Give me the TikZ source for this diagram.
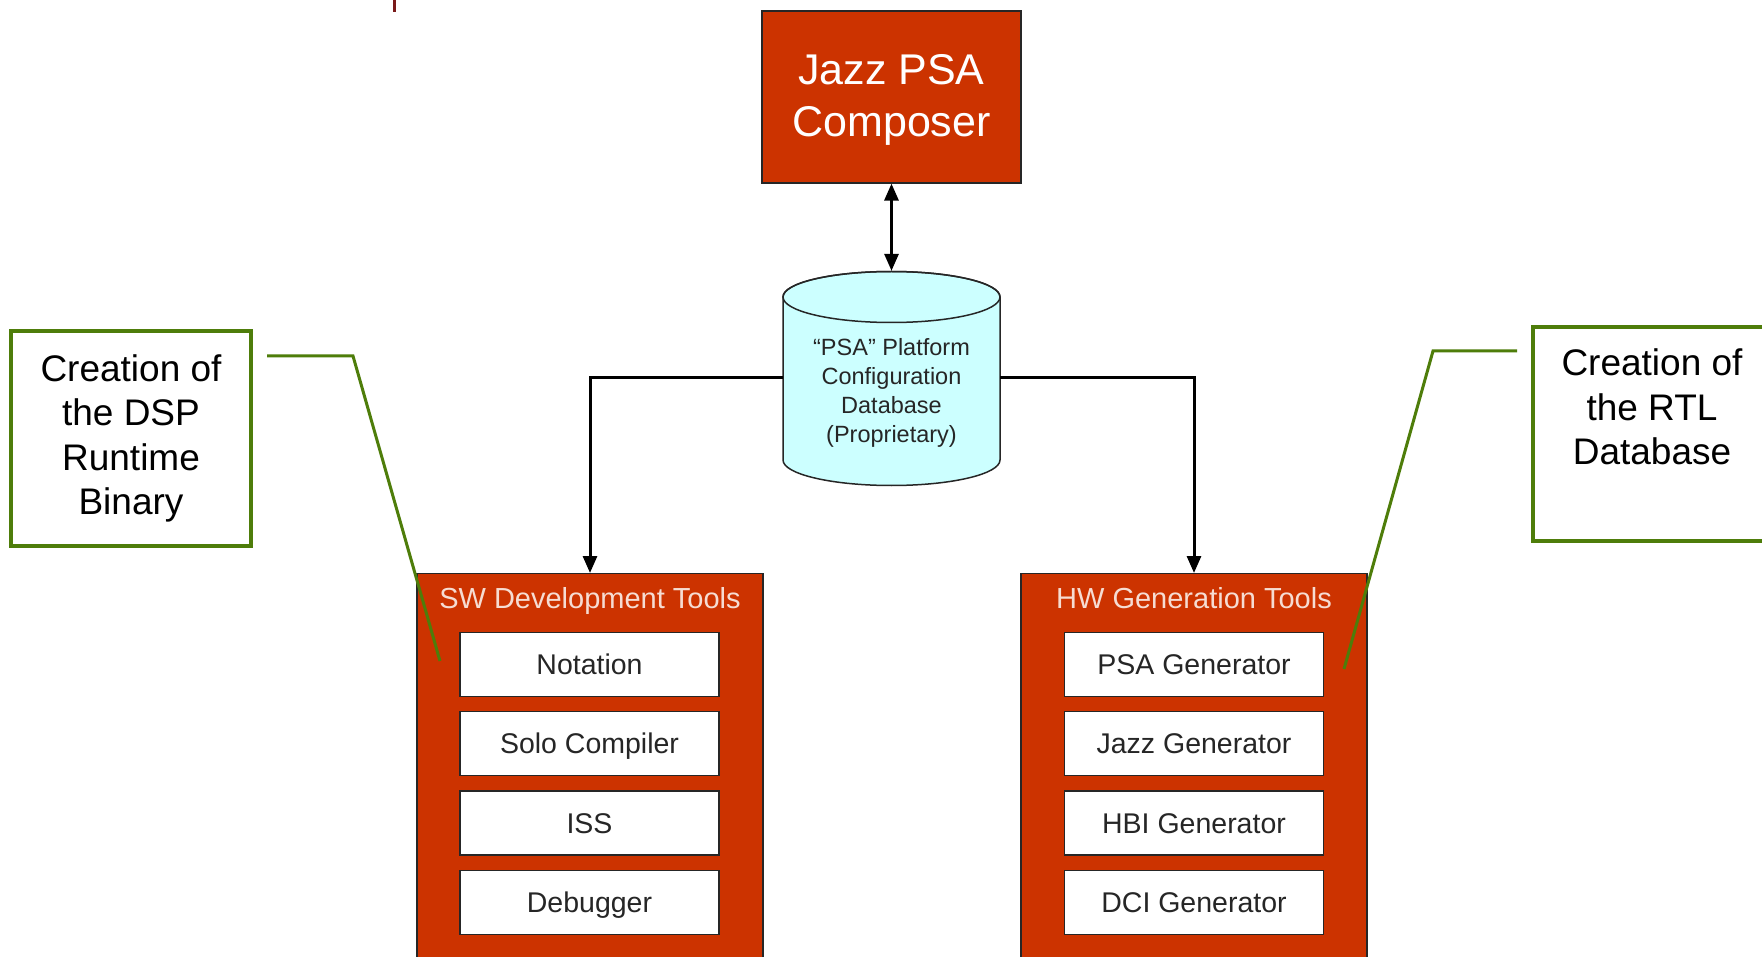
\documentclass[tikz,border=0pt]{standalone}
\usepackage{fontspec}
\setmainfont{Liberation Sans}
\usetikzlibrary{arrows.meta}
\definecolor{psared}{HTML}{CC3300}
\definecolor{callgreen}{HTML}{4E7D0A}
\definecolor{dbcyan}{HTML}{CCFFFF}
\definecolor{titlepink}{HTML}{F6DCD2}
\definecolor{innertext}{HTML}{262626}
\definecolor{tickred}{HTML}{7A1A1A}
\begin{document}
\begin{tikzpicture}[x=1pt,y=1pt,
  redbox/.style={draw=black!85, line width=1.2pt, fill=psared, inner sep=0pt},
  toolbox/.style={draw=black!85, line width=1.5pt, fill=white, minimum width=259pt, minimum height=64pt, inner sep=0pt, font=\fontsize{28.5}{34}\selectfont, text=innertext, text height=20.4pt, text depth=0pt},
  grouptitle/.style={font=\fontsize{29}{34}\selectfont, text=titlepink, inner sep=0pt, text height=20.8pt, text depth=0pt},
  callbox/.style={draw=callgreen, line width=4pt, fill=white, minimum width=240pt, minimum height=214pt, align=center, font=\fontsize{37}{44.5}\selectfont, inner sep=0pt},
  callline/.style={draw=callgreen, line width=3pt},
  conn/.style={draw=black, line width=3pt},
  tipend/.style={-{Triangle[length=17pt,width=14pt]}},
  tipboth/.style={{Triangle[length=17pt,width=14pt]}-{Triangle[length=17pt,width=14pt]}},
  dbline/.style={draw=black!85, line width=1.5pt}
]
\useasboundingbox (0,0) rectangle (1762,-957);
\clip (0,0) rectangle (1762,-957);
\fill[white] (0,0) rectangle (1762,-957);

% small cut-off mark at the top
\draw[tickred, line width=3pt] (394,0) -- (394,-12);

% composer
\node[redbox, minimum width=259pt, minimum height=172pt, text=white, align=center,
      font=\fontsize{43}{52}\selectfont] (comp) at (891.5,-97) {\rule{0pt}{36pt}Jazz PSA\\Composer};

% database cylinder
\path[dbline, fill=dbcyan] (783,-297) -- (783,-460) arc (180:360:108.5 and 25.5)
   -- (1000,-297) arc (0:180:108.5 and 25.5) -- cycle;
\draw[dbline] (891.5,-297) ellipse (108.5 and 25.5);
\node[minimum width=217pt, minimum height=214pt, inner sep=0pt] (db) at (891.5,-378) {};
\node[align=center, inner sep=0pt, font=\fontsize{23.5}{29}\selectfont, text=innertext] (dbtext) at (891.5,-392.5)
  {“PSA” Platform\\Configuration\\Database\\(Proprietary)};

% SW group
\node[redbox, minimum width=346pt, minimum height=420pt, anchor=north] (sw) at (590,-573) {};
\node[grouptitle] (swt) at (590,-598) {SW Development Tools};
\node[toolbox] (notation) at (589.5,-664.5) {Notation};
\node[toolbox] (solo) at (589.5,-743.5) {Solo Compiler};
\node[toolbox] (iss) at (589.5,-823) {ISS};
\node[toolbox] (debug) at (589.5,-902.5) {Debugger};

% HW group
\node[redbox, minimum width=346pt, minimum height=420pt, anchor=north] (hw) at (1194,-573) {};
\node[grouptitle] (hwt) at (1194,-598) {HW Generation Tools};
\node[toolbox] (psagen) at (1194,-664.5) {PSA Generator};
\node[toolbox] (jazzgen) at (1194,-743.5) {Jazz Generator};
\node[toolbox] (hbigen) at (1194,-823) {HBI Generator};
\node[toolbox] (dcigen) at (1194,-902.5) {DCI Generator};

% connectors
\draw[conn, tipboth] (comp.south) -- (db.north);
\draw[conn, tipend] (db.west) -| (sw.north);
\draw[conn, tipend] (db.east) -| (hw.north);

% callouts
\node[callbox] (dsp) at (131,-438.5) {Creation of\\the DSP\\Runtime\\Binary};
\node[callbox, minimum width=238pt] (rtl) at (1652,-434) {Creation of\\the RTL\\Database\\\rule[-10pt]{0pt}{10pt}};

\coordinate (dspA) at (267,-356);
\coordinate (dspB) at (353,-356);
\coordinate (dspC) at (440,-661);
\draw[callline] (dspA) -- (dspB) -- (dspC);
\coordinate (rtlA) at (1517,-351);
\coordinate (rtlB) at (1433,-351);
\coordinate (rtlC) at (1344,-669);
\draw[callline] (rtlA) -- (rtlB) -- (rtlC);
\end{tikzpicture}
\end{document}
